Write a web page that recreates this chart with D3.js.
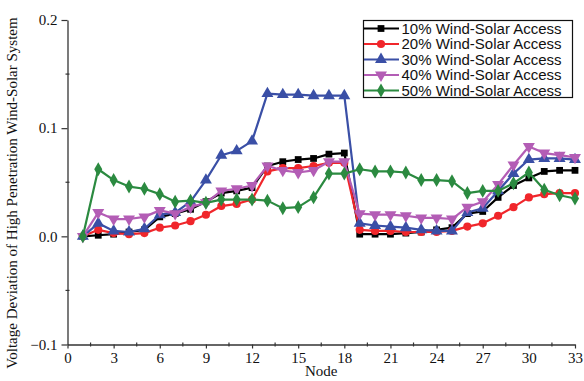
<!DOCTYPE html>
<html>
<head>
<meta charset="utf-8">
<script src="https://cdn.jsdelivr.net/npm/d3@7"></script>
<style>
  html, body { margin: 0; padding: 0; background: #fff; }
  svg { display: block; }
</style>
</head>
<body>
<svg id="chart" width="584" height="381"></svg>
<script>
// Node numbers along the feeder
const nodes = d3.range(1, 34);

// Voltage deviation per node for each wind-solar access level
const access10 = [0, 0.001, 0.002, 0.004, 0.006, 0.018, 0.021, 0.025, 0.032, 0.040, 0.042, 0.045, 0.065, 0.069, 0.071, 0.072, 0.076, 0.077, 0.002, 0.002, 0.002, 0.003, 0.004, 0.006, 0.008, 0.021, 0.023, 0.036, 0.047, 0.054, 0.060, 0.061, 0.061];
const access20 = [0, 0.006, 0.003, 0.002, 0.003, 0.008, 0.010, 0.014, 0.020, 0.028, 0.030, 0.034, 0.060, 0.063, 0.063, 0.065, 0.068, 0.068, 0.006, 0.005, 0.005, 0.004, 0.004, 0.004, 0.005, 0.009, 0.012, 0.019, 0.027, 0.036, 0.039, 0.040, 0.040];
const access30 = [0, 0.012, 0.005, 0.004, 0.007, 0.020, 0.022, 0.032, 0.052, 0.075, 0.079, 0.088, 0.132, 0.131, 0.131, 0.130, 0.130, 0.130, 0.012, 0.010, 0.009, 0.008, 0.006, 0.005, 0.005, 0.022, 0.026, 0.042, 0.058, 0.071, 0.072, 0.072, 0.071];
const access40 = [0, 0.022, 0.016, 0.016, 0.018, 0.024, 0.021, 0.027, 0.031, 0.042, 0.044, 0.047, 0.065, 0.061, 0.059, 0.061, 0.069, 0.069, 0.021, 0.020, 0.020, 0.019, 0.017, 0.017, 0.016, 0.027, 0.032, 0.048, 0.066, 0.083, 0.077, 0.075, 0.073];
const access50 = [0, 0.062, 0.052, 0.046, 0.044, 0.039, 0.032, 0.033, 0.031, 0.034, 0.034, 0.034, 0.033, 0.026, 0.027, 0.036, 0.058, 0.058, 0.062, 0.060, 0.060, 0.059, 0.052, 0.052, 0.051, 0.040, 0.042, 0.042, 0.049, 0.059, 0.043, 0.038, 0.035];

const seriesNames = ["10% Wind-Solar Access", "20% Wind-Solar Access", "30% Wind-Solar Access", "40% Wind-Solar Access", "50% Wind-Solar Access"];
const seriesValues = [access10, access20, access30, access40, access50];

const xTicks = d3.range(0, 34, 3);
const yTicks = [-0.1, 0.0, 0.1, 0.2];

const colors = ["#000000", "#f0262b", "#3a4fa6", "#b35db5", "#2b8a40"];
const symbols = [d3.symbolSquare, d3.symbolCircle, d3.symbolTriangle, "down", d3.symbolDiamond];
const symbolSizes = [46, 52, 62, 62, 56];

const svg = d3.select("#chart");
const x = d3.scaleLinear().domain([0, 33]).range([67.5, 575]);
const y = d3.scaleLinear().domain([-0.1, 0.2]).range([344.5, 20]);

const serif = "'Liberation Serif', 'Times New Roman', serif";
const sans = "'Liberation Sans', Arial, sans-serif";

// Axes
const xAxis = d3.axisBottom(x).tickValues(xTicks).tickFormat(d3.format("d")).tickSize(4).tickSizeOuter(0);
const gx = svg.append("g").attr("transform", `translate(0,${y(-0.1)})`).call(xAxis);
gx.selectAll("text").attr("font-family", serif).attr("font-size", 15).attr("dy", "0.78em").attr("y", 7).attr("fill", "#111");

const yAxis = d3.axisLeft(y).tickValues(yTicks).tickFormat(d3.format(".1f")).tickSize(6).tickSizeOuter(0);
const gy = svg.append("g").attr("transform", `translate(${x(0)},0)`).call(yAxis);
gy.selectAll("text").attr("font-family", serif).attr("font-size", 15).attr("x", -10).attr("fill", "#111");

[gx, gy].forEach(g => {
  g.select(".domain").attr("stroke", "#333").attr("stroke-width", 1.3);
  g.selectAll(".tick line").attr("stroke", "#333").attr("stroke-width", 1.2);
});

// Minor ticks
const minorX = d3.range(1.5, 33, 3);
svg.append("g").selectAll("line").data(minorX).join("line")
  .attr("x1", d => x(d)).attr("x2", d => x(d))
  .attr("y1", y(-0.1) - 2).attr("y2", y(-0.1) + 2)
  .attr("stroke", "#333").attr("stroke-width", 1.2);
const minorY = [-0.05, 0.05, 0.15];
svg.append("g").selectAll("line").data(minorY).join("line")
  .attr("x1", x(0) - 2).attr("x2", x(0) + 2)
  .attr("y1", d => y(d)).attr("y2", d => y(d))
  .attr("stroke", "#333").attr("stroke-width", 1.2);

// Axis titles
svg.append("text")
  .attr("x", x(16.5)).attr("y", 376)
  .attr("text-anchor", "middle")
  .attr("font-family", serif).attr("font-size", 15).attr("fill", "#111")
  .text("Node");
svg.append("text")
  .attr("transform", "translate(17,193) rotate(-90)")
  .attr("text-anchor", "middle")
  .attr("font-family", serif).attr("font-size", 15).attr("fill", "#111")
  .text("Voltage Deviation of High Penetration Wind-Solar System");

function symbolPath(i) {
  if (symbols[i] === "down") {
    return d3.symbol().type(d3.symbolTriangle).size(symbolSizes[i])();
  }
  return d3.symbol().type(symbols[i]).size(symbolSizes[i])();
}

const line = d3.line().x((d, i) => x(nodes[i])).y(d => y(d));

// Series lines and markers
seriesValues.forEach((vals, i) => {
  const g = svg.append("g");
  g.append("path").datum(vals)
    .attr("d", line)
    .attr("fill", "none")
    .attr("stroke", colors[i])
    .attr("stroke-width", 2.2)
    .attr("stroke-linejoin", "round");
  g.selectAll("path.m").data(vals).join("path")
    .attr("class", "m")
    .attr("d", symbolPath(i))
    .attr("transform", (d, j) => `translate(${x(nodes[j])},${y(d)})${symbols[i] === "down" ? " rotate(180)" : ""}`)
    .attr("fill", colors[i]);
});

// Legend
const legend = svg.append("g");
legend.append("rect")
  .attr("x", 363.5).attr("y", 20.5).attr("width", 209).attr("height", 77)
  .attr("fill", "#fff").attr("stroke", "#111").attr("stroke-width", 1.2);
seriesNames.forEach((name, i) => {
  const ly = 28.5 + i * 15.5;
  legend.append("line")
    .attr("x1", 364).attr("x2", 399).attr("y1", ly).attr("y2", ly)
    .attr("stroke", colors[i]).attr("stroke-width", 2.2);
  legend.append("path")
    .attr("d", symbolPath(i))
    .attr("transform", `translate(381,${ly})${symbols[i] === "down" ? " rotate(180)" : ""}`)
    .attr("fill", colors[i]);
  legend.append("text")
    .attr("x", 401.5).attr("y", ly).attr("dy", "0.35em")
    .attr("font-family", sans).attr("font-size", 15).attr("fill", "#111")
    .text(name);
});
</script>
</body>
</html>
